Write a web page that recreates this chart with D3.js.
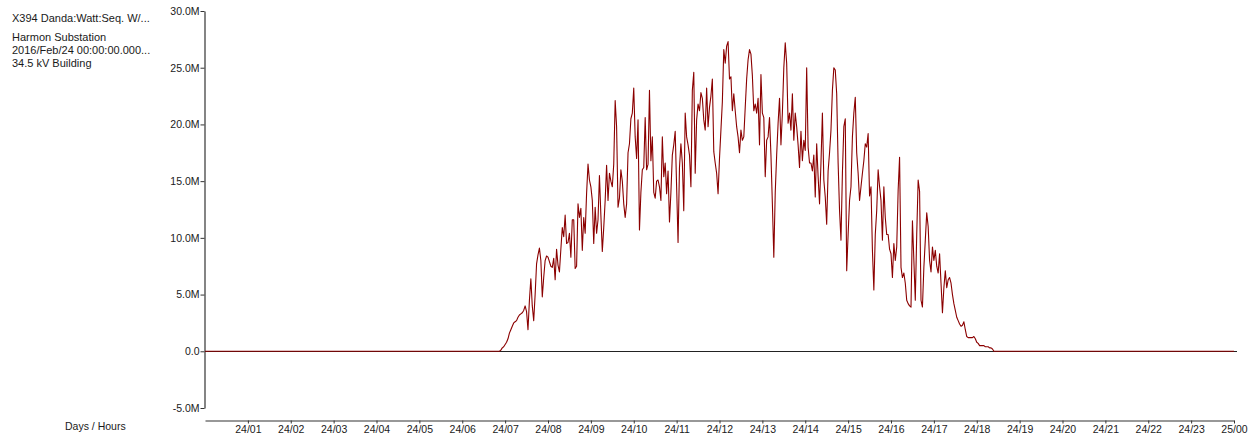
<!DOCTYPE html>
<html>
<head>
<meta charset="utf-8">
<script src="https://cdn.jsdelivr.net/npm/d3@7"></script>
<style>
  html, body { margin: 0; padding: 0; background: #fff; }
  svg { display: block; font-family: "Liberation Sans", Arial, sans-serif; }
</style>
</head>
<body>
<svg id="chart" width="1254" height="435"></svg>
<script>
// ---- data ----
const headerLines = ["X394 Danda:Watt:Seq. W/...", "Harmon Substation", "2016/Feb/24 00:00:00.000...", "34.5 kV Building"];
const xAxisTitle = "Days / Hours";
const yTicks = [-5, 0, 5, 10, 15, 20, 25, 30];             // MW
const yTickLabels = ["-5.0M", "0.0", "5.0M", "10.0M", "15.0M", "20.0M", "25.0M", "30.0M"];
const xTicks = [1,2,3,4,5,6,7,8,9,10,11,12,13,14,15,16,17,18,19,20,21,22,23,24]; // hours
const xTickLabels = ["24/01","24/02","24/03","24/04","24/05","24/06","24/07","24/08","24/09","24/10","24/11","24/12",
                     "24/13","24/14","24/15","24/16","24/17","24/18","24/19","24/20","24/21","24/22","24/23","25/00"];
const dayStartHour = 0;
const dayEndHour = 24;
const activeStartMinute = 408;   // 06:48
const stepMinutes = 2;
// Watts (in millions) sampled every 2 minutes from 06:48
const wattsM = [
  0, 0, 0, 0.1, 0.3, 0.4, 0.6, 0.8, 1.1, 1.6,
  1.9, 2.2, 2.5, 2.6, 2.7, 3.0, 3.2, 3.3, 3.4, 3.6,
  4.0, 3.5, 1.9, 4.5, 6.4, 4.0, 2.7, 5.0, 7.7, 8.5,
  9.1, 8.0, 4.8, 6.5, 8.0, 8.4, 8.3, 7.9, 7.5, 7.4,
  8.2, 6.3, 9.0, 7.6, 7.0, 9.0, 10.9, 10.1, 12.0, 9.5,
  9.6, 10.4, 8.3, 11.6, 11.6, 7.3, 7.5, 13.0, 11.8, 12.6,
  8.9, 11.8, 10.4, 13.9, 16.5, 15.1, 14.5, 13.3, 9.5, 12.7,
  10.4, 11.6, 15.5, 12.0, 8.8, 10.9, 13.3, 16.4, 13.3, 15.7,
  15.0, 14.5, 16.5, 22.1, 19.8, 12.7, 13.5, 16.0, 15.0, 13.0,
  11.8, 13.0, 17.5, 18.3, 20.5, 21.0, 23.2, 18.9, 17.0, 20.4,
  10.7, 14.0, 16.0, 16.2, 20.6, 16.0, 16.5, 23.0, 16.8, 18.9,
  14.0, 13.5, 15.0, 15.1, 14.5, 13.3, 18.9, 15.4, 16.6, 13.9,
  15.9, 11.4, 14.0, 17.3, 18.2, 19.4, 14.5, 9.6, 16.2, 18.3,
  16.6, 12.4, 21.0, 18.9, 18.2, 17.3, 14.5, 23.0, 24.6, 15.7,
  20.4, 21.8, 21.2, 22.8, 22.3, 20.4, 19.5, 23.2, 19.8, 21.5,
  22.5, 24.0, 17.6, 16.6, 15.7, 13.9, 17.0, 19.5, 22.0, 26.6,
  25.4, 26.9, 27.3, 24.0, 24.2, 21.2, 22.7, 21.2, 19.8, 18.9,
  17.5, 19.5, 18.6, 18.9, 21.5, 24.0, 25.7, 26.6, 26.2, 24.3,
  21.2, 21.8, 21.0, 22.3, 18.2, 24.4, 21.0, 20.6, 15.4, 18.6,
  18.9, 20.6, 17.3, 13.0, 8.3, 14.0, 17.3, 20.1, 22.3, 18.2,
  21.0, 25.0, 27.2, 25.4, 20.1, 21.0, 19.5, 22.7, 18.6, 21.0,
  19.8, 18.2, 16.2, 19.4, 16.8, 18.6, 17.7, 25.0, 18.0, 16.6,
  16.6, 15.9, 17.3, 13.6, 18.3, 15.4, 13.0, 16.6, 21.0, 15.1,
  13.6, 11.2, 15.9, 17.5, 19.5, 23.0, 25.0, 24.8, 22.7, 16.6,
  12.4, 9.8, 15.7, 19.8, 20.5, 7.1, 10.3, 13.3, 14.5, 18.9,
  21.0, 22.4, 17.5, 15.7, 13.3, 14.5, 15.7, 16.8, 18.3, 18.0,
  19.2, 13.7, 14.5, 8.9, 5.4, 10.3, 12.4, 16.0, 14.5, 13.3,
  9.8, 14.5, 11.8, 10.3, 10.3, 9.0, 8.6, 6.5, 9.5, 8.0,
  9.2, 14.2, 17.1, 7.4, 6.5, 6.9, 6.0, 4.5, 4.2, 4.0,
  3.9, 11.5, 8.0, 4.5, 10.3, 15.1, 14.1, 4.5, 3.9, 7.4,
  9.8, 12.2, 11.0, 8.0, 7.0, 9.2, 8.0, 8.9, 7.5, 6.9,
  8.6, 6.0, 3.4, 5.6, 7.1, 5.6, 6.3, 6.5, 6.0, 5.0,
  4.2, 3.6, 3.0, 2.7, 2.4, 2.2, 2.3, 2.6, 1.9, 1.3,
  1.2, 1.2, 1.2, 1.2, 1.3, 1.1, 0.8, 0.7, 0.5, 0.5,
  0.5, 0.5, 0.4, 0.4, 0.4, 0.3, 0.3, 0.2, 0.0
];

// ---- build series ----
const series = [{ h: dayStartHour, v: 0 }]
  .concat(wattsM.map((v, i) => ({ h: (activeStartMinute + i * stepMinutes) / 60, v })))
  .concat([{ h: dayEndHour, v: 0 }]);

const svg = d3.select("#chart");
const x = d3.scaleLinear().domain([dayStartHour, dayEndHour]).range([205, 1234]);
const y = d3.scaleLinear().domain([-5, 30]).range([408, 11]);
const textColor = "#1a1a1a";

// header text
svg.append("g").selectAll("text").data(headerLines).join("text")
  .attr("x", 12)
  .attr("y", (d, i) => i === 0 ? 22 : 41 + (i - 1) * 13)
  .attr("font-size", 11)
  .attr("fill", textColor)
  .text(d => d);

// x-axis title
svg.append("text").attr("x", 65).attr("y", 430)
  .attr("font-size", 10.5).attr("fill", textColor).text(xAxisTitle);

// y axis
const yAxis = svg.append("g").attr("transform", "translate(204.5,0)")
  .call(d3.axisLeft(y).tickValues(yTicks).tickSize(4).tickSizeOuter(0)
    .tickFormat((d, i) => yTickLabels[i]));
yAxis.select(".domain").attr("stroke", "#333").attr("stroke-width", 1.2);
yAxis.selectAll(".tick line").attr("stroke", "#333");
yAxis.selectAll(".tick text").attr("font-size", 10.5).attr("fill", textColor)
  .attr("font-family", "Liberation Sans, Arial, sans-serif").attr("x", -5);

// x axis
const xAxis = svg.append("g").attr("transform", "translate(0,420.5)")
  .call(d3.axisBottom(x).tickValues(xTicks).tickSize(3).tickSizeOuter(0)
    .tickFormat((d, i) => xTickLabels[i]));
xAxis.select(".domain").attr("stroke", "#333").attr("stroke-width", 1.2);
xAxis.selectAll(".tick line").attr("stroke", "#333");
xAxis.selectAll(".tick text").attr("font-size", 10.5).attr("fill", textColor)
  .attr("font-family", "Liberation Sans, Arial, sans-serif").attr("dy", "0.6em").attr("y", 6);

// zero line
svg.append("line")
  .attr("x1", x(dayStartHour)).attr("x2", 1237)
  .attr("y1", Math.round(y(0)) + 0.5).attr("y2", Math.round(y(0)) + 0.5)
  .attr("stroke", "#222").attr("stroke-width", 1);

// data line
const line = d3.line().x(d => x(d.h)).y(d => y(d.v));
svg.append("path").datum(series)
  .attr("d", line)
  .attr("fill", "none")
  .attr("stroke", "#8b0000")
  .attr("stroke-width", 1.1)
  .attr("stroke-linejoin", "round");
</script>
</body>
</html>
